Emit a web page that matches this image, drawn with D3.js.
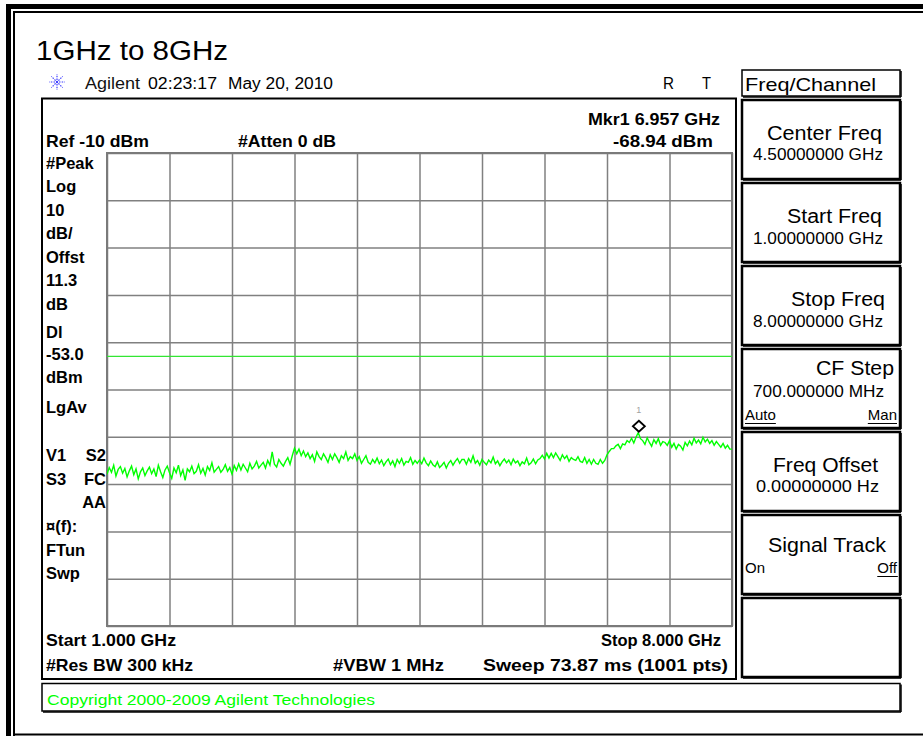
<!DOCTYPE html>
<html><head><meta charset="utf-8">
<script src="https://cdn.jsdelivr.net/npm/d3@7"></script>
<style>
html,body{margin:0;padding:0;background:#fff;}
svg{display:block;}
text{font-family:"Liberation Sans",Arial,sans-serif;}
</style></head><body>
<svg id="chart" width="923" height="736"></svg>
<script>
// ---------------- data ----------------
const chartTitle = "1GHz to 8GHz";
const headerBrand = "Agilent";
const headerTime = "02:23:17";
const headerDate = "May 20, 2010";
const startFreqGHz = 1.0;
const stopFreqGHz = 8.0;
const refLevelDbm = -10;
const dbPerDiv = 10;
const numDivs = 10;
const displayLineDbm = -53.0;
const markerFreqGHz = 6.957;
const markerDbm = -68.94;

// trace amplitude (dBm), evenly spaced from start to stop
const traceDbm = [
-77.9,-76.5,-77.5,-76.0,-78.3,-76.9,-76.3,-77.7,-76.7,-78.5,
-77.2,-76.2,-78.0,-76.8,-78.9,-77.4,-76.6,-78.2,-77.2,-76.4,
-77.8,-76.8,-78.4,-76.0,-77.4,-78.6,-77.0,-76.2,-77.6,-78.8,
-76.6,-77.6,-76.0,-78.2,-77.0,-79.2,-76.8,-77.4,-76.2,-77.8,
-77.3,-75.9,-77.7,-76.7,-78.1,-76.3,-77.1,-75.5,-77.5,-76.9,
-76.3,-77.5,-76.9,-75.9,-77.3,-76.5,-77.9,-76.1,-77.1,-75.7,
-77.0,-75.8,-76.6,-77.4,-75.6,-76.8,-76.2,-75.2,-76.6,-76.0,
-75.4,-76.6,-75.0,-76.0,-73.2,-75.8,-76.4,-74.8,-75.6,-76.2,
-75.2,-74.4,-75.8,-74.0,-72.4,-73.6,-72.6,-74.0,-73.0,-74.2,
-73.4,-74.6,-73.8,-75.2,-73.2,-74.2,-74.8,-73.6,-74.4,-75.4,
-73.8,-74.8,-73.6,-74.4,-75.4,-74.0,-74.6,-73.2,-75.0,-74.2,
-74.6,-73.6,-75.0,-74.2,-75.6,-74.8,-74.0,-75.4,-75.8,-74.8,
-75.5,-74.5,-75.7,-74.9,-76.1,-75.3,-74.7,-75.9,-75.1,-76.3,
-74.8,-75.6,-74.6,-76.0,-75.2,-75.4,-74.4,-75.8,-75.0,-75.6,
-74.9,-75.7,-74.5,-75.5,-76.1,-75.1,-75.9,-76.3,-75.3,-76.5,
-76.0,-75.4,-76.6,-75.6,-75.0,-76.0,-75.2,-74.6,-75.6,-74.8,
-74.8,-75.8,-74.6,-75.4,-74.0,-75.6,-75.0,-76.0,-74.8,-75.4,
-75.9,-74.9,-75.5,-74.3,-75.7,-75.1,-76.1,-75.3,-74.7,-75.5,
-74.9,-75.9,-74.7,-75.5,-75.1,-76.1,-75.3,-75.7,-74.5,-75.9,
-75.5,-74.7,-75.7,-74.9,-74.6,-73.9,-74.7,-73.5,-74.5,-73.5,
-74.4,-73.4,-74.2,-75.0,-73.8,-74.6,-74.0,-75.2,-74.4,-74.8,
-75.0,-74.2,-75.2,-75.4,-74.4,-75.6,-74.8,-75.8,-74.8,-75.6,
-75.8,-74.8,-75.6,-75.0,-73.8,-73.1,-72.5,-72.5,-71.9,-71.6,
-72.5,-71.5,-71.7,-70.8,-71.2,-70.3,-71.3,-70.1,-69.1,-70.4,
-70.8,-71.6,-70.2,-71.2,-72.0,-70.6,-71.4,-70.4,-71.8,-71.0,
-71.2,-71.8,-70.8,-72.2,-71.4,-72.6,-71.6,-72.0,-72.8,-71.2,
-71.9,-70.9,-71.7,-70.3,-71.3,-70.7,-71.5,-70.1,-71.1,-70.5,
-71.4,-70.8,-71.8,-71.0,-71.6,-72.2,-71.4,-72.4,-71.8,-72.6,
-72.6
];

const topLeftText = "Ref -10 dBm";
const topMidText = "#Atten 0 dB";
const markerLine1 = "Mkr1  6.957 GHz";
const markerLine2 = "-68.94 dBm";
const leftAnnotations = ["#Peak","Log","10","dB/","Offst","11.3","dB","Dl","-53.0","dBm","LgAv","V1","S3","¤(f):","FTun","Swp"];
const leftAnnotationsRight = ["S2","FC","AA"];
const bottomTexts = ["Start 1.000 GHz","Stop 8.000 GHz","#Res BW 300 kHz","#VBW 1 MHz","Sweep 73.87 ms (1001 pts)"];
const menuTitle = "Freq/Channel";
const softkeyTitles = ["Center Freq","Start Freq","Stop Freq","CF Step","Freq Offset","Signal Track",""];
const softkeyValues = ["4.50000000 GHz","1.00000000 GHz","8.00000000 GHz","700.000000 MHz","0.00000000  Hz","",""];
const softkeyChoices = [null,null,null,["Auto","Man"],null,["On","Off"],null];
const copyrightText = "Copyright 2000-2009 Agilent Technologies";

// ---------------- layout ----------------
const svg = d3.select("#chart");
const P = {left:107, right:732, top:153, bottom:626};
const GREEN = "#00ff00";

function txt(str, x, y, o = {}) {
  const t = svg.append("text").attr("x", x).attr("y", y).text(str)
    .attr("font-size", o.size || 16)
    .attr("font-weight", o.bold ? "bold" : "normal")
    .attr("fill", o.fill || "#000");
  if (o.anchor) t.attr("text-anchor", o.anchor);
  if (o.len) t.attr("textLength", o.len).attr("lengthAdjust", "spacingAndGlyphs");
  if (o.family) t.attr("font-family", o.family);
  return t;
}

// outer frame
svg.append("rect").attr("x",6).attr("y",4).attr("width",5).attr("height",732).attr("fill","#000");
svg.append("rect").attr("x",6).attr("y",4).attr("width",917).attr("height",5).attr("fill","#000");
svg.append("rect").attr("x",13).attr("y",11).attr("width",910).attr("height",2).attr("fill","#000");
svg.append("rect").attr("x",13).attr("y",11).attr("width",2).attr("height",725).attr("fill","#000");
svg.append("rect").attr("x",13).attr("y",733.5).attr("width",910).attr("height",2).attr("fill","#000");

// title + header
txt(chartTitle, 36, 60, {size:27, len:192});
const logo = svg.append("g").attr("transform","translate(57,82)");
d3.range(8).forEach(i => {
  const a = i * Math.PI / 4;
  logo.append("line").attr("x1", 2*Math.cos(a)).attr("y1", 2*Math.sin(a))
    .attr("x2", 8*Math.cos(a)).attr("y2", 8*Math.sin(a))
    .attr("stroke","#3a3aff").attr("stroke-width",1.2).attr("stroke-dasharray","1.5,1.2");
});
logo.append("circle").attr("r",1.2).attr("fill","#3a3aff");
txt(headerBrand, 85, 89, {size:16, len:55, fill:"#111"});
txt(headerTime, 148, 89, {size:16, len:69});
txt(headerDate, 228, 89, {size:16, len:105});
txt("R", 663, 89, {size:16, len:11});
txt("T", 702, 89, {size:16, len:9});

// main screen box
svg.append("rect").attr("x",42).attr("y",98.5).attr("width",694).attr("height",580.5)
  .attr("fill","none").attr("stroke","#000").attr("stroke-width",2);

// scales
const x = d3.scaleLinear().domain([startFreqGHz, stopFreqGHz]).range([P.left, P.right]);
const y = d3.scaleLinear().domain([refLevelDbm - dbPerDiv*numDivs, refLevelDbm]).range([P.bottom, P.top]);
const gridFreqs = d3.range(numDivs + 1).map(i => startFreqGHz + i*(stopFreqGHz - startFreqGHz)/numDivs);
const gridLevels = d3.range(numDivs + 1).map(i => refLevelDbm - i*dbPerDiv);

// grid via axes
const gx = svg.append("g").attr("transform",`translate(0,${P.bottom})`)
  .call(d3.axisBottom(x).tickValues(gridFreqs).tickSize(-(P.bottom-P.top)).tickSizeOuter(0).tickFormat(""));
const gy = svg.append("g").attr("transform",`translate(${P.left},0)`)
  .call(d3.axisLeft(y).tickValues(gridLevels).tickSize(-(P.right-P.left)).tickSizeOuter(0).tickFormat(""));
[gx, gy].forEach(g => {
  g.select(".domain").remove();
  g.selectAll(".tick line").attr("stroke","#808080").attr("stroke-width",1.5);
});
svg.append("rect").attr("x",P.left).attr("y",P.top).attr("width",P.right-P.left).attr("height",P.bottom-P.top)
  .attr("fill","none").attr("stroke","#7a7a7a").attr("stroke-width",2);

svg.append("clipPath").attr("id","plotclip").append("rect")
  .attr("x",P.left).attr("y",P.top).attr("width",P.right-P.left).attr("height",P.bottom-P.top);

// display line
svg.append("line").attr("x1",x(startFreqGHz)).attr("x2",x(stopFreqGHz))
  .attr("y1",y(displayLineDbm)).attr("y2",y(displayLineDbm))
  .attr("stroke","#33e633").attr("stroke-width",1.2);

// trace
const n = traceDbm.length;
const traceData = traceDbm.map((v,i) => ({f: startFreqGHz + i*(stopFreqGHz-startFreqGHz)/(n-1), v}));
svg.append("path").datum(traceData).attr("clip-path","url(#plotclip)")
  .attr("d", d3.line().x(d => x(d.f)).y(d => y(d.v)))
  .attr("fill","none").attr("stroke",GREEN).attr("stroke-width",1.4).attr("stroke-linejoin","miter");

// marker
const mx = x(markerFreqGHz), my = y(markerDbm);
svg.append("path").attr("d",`M${mx},${my-11} L${mx+6},${my-5.5} L${mx},${my} L${mx-6},${my-5.5} Z`)
  .attr("fill","#fff").attr("stroke","#000").attr("stroke-width",1.8);
txt("1", mx, my-19, {size:9, anchor:"middle", fill:"#a0a0a0"});

// annotations
const B = {bold:true, size:16.5};
txt(topLeftText, 46, 147, {...B, len:103});
txt(topMidText, 238, 147, {...B, len:98});
txt(markerLine1, 588, 125, {...B, len:132});
txt(markerLine2, 613, 147, {...B, len:100});

const leftY = [169,192,216,239,263,286,310,338,360,383,413,461,485,532,556,579];
leftAnnotations.forEach((s,i) => txt(s, 46, leftY[i], B));
const rightY = [461,485,508];
leftAnnotationsRight.forEach((s,i) => txt(s, 106, rightY[i], {...B, anchor:"end"}));

txt(bottomTexts[0], 46, 646, {...B, len:130});
txt(bottomTexts[1], 721, 646, {...B, anchor:"end"});
txt(bottomTexts[2], 46, 671, {...B, len:147});
txt(bottomTexts[3], 333, 671, {...B, len:111});
txt(bottomTexts[4], 483, 671, {...B, len:245});

function shadowBox(x0, y0, w, h, sw) {
  svg.append("rect").attr("x",x0).attr("y",y0).attr("width",w).attr("height",h)
    .attr("fill","none").attr("stroke","#000").attr("stroke-width",sw);
  svg.append("line").attr("x1",x0+1).attr("x2",x0+w+1).attr("y1",y0+h+1).attr("y2",y0+h+1).attr("stroke","#000").attr("stroke-width",1.5);
  svg.append("line").attr("x1",x0+w+1).attr("x2",x0+w+1).attr("y1",y0+1).attr("y2",y0+h+1).attr("stroke","#000").attr("stroke-width",1.5);
}
shadowBox(42, 683.5, 858, 27.5, 1.5);
txt(copyrightText, 47, 705, {size:15, len:328, fill:GREEN});

shadowBox(742, 70, 158, 26, 1.5);
txt(menuTitle, 745, 91, {size:19, len:131});

const skTops = [100,183,266,349,432,515,598];
const skTitleLayout = [[767,140,115],[787,223,95],[791,306,94],[816,375,78],[773,472,105],[768,552,118]];
const skValueLayout = [[753,160,130],[753,244,130],[753,327,130],[753,397,131],[756,492,123]];
const skChoiceY = {3:420, 5:573};
skTops.forEach((t,i) => {
  shadowBox(742, t, 158, 79, 2.5);
  if (softkeyTitles[i]) {
    const L = skTitleLayout[i];
    txt(softkeyTitles[i], L[0], L[1], {size:19.5, len:L[2]});
  }
  if (softkeyValues[i]) {
    const L = skValueLayout[i];
    txt(softkeyValues[i], L[0], L[1], {size:16, len:L[2]});
  }
  if (softkeyChoices[i]) {
    const cy = skChoiceY[i];
    const [a, b] = softkeyChoices[i];
    const left = txt(a, 745, cy, {size:15});
    const right = txt(b, 897, cy, {size:15, anchor:"end"});
    const active = i === 3 ? [left, right] : [right];
    active.forEach(tn => {
      const bb = tn.node().getBBox();
      svg.append("line").attr("x1",bb.x).attr("x2",bb.x+bb.width).attr("y1",cy+3.5).attr("y2",cy+3.5)
        .attr("stroke","#000").attr("stroke-width",1);
    });
  }
});
</script>
</body></html>
